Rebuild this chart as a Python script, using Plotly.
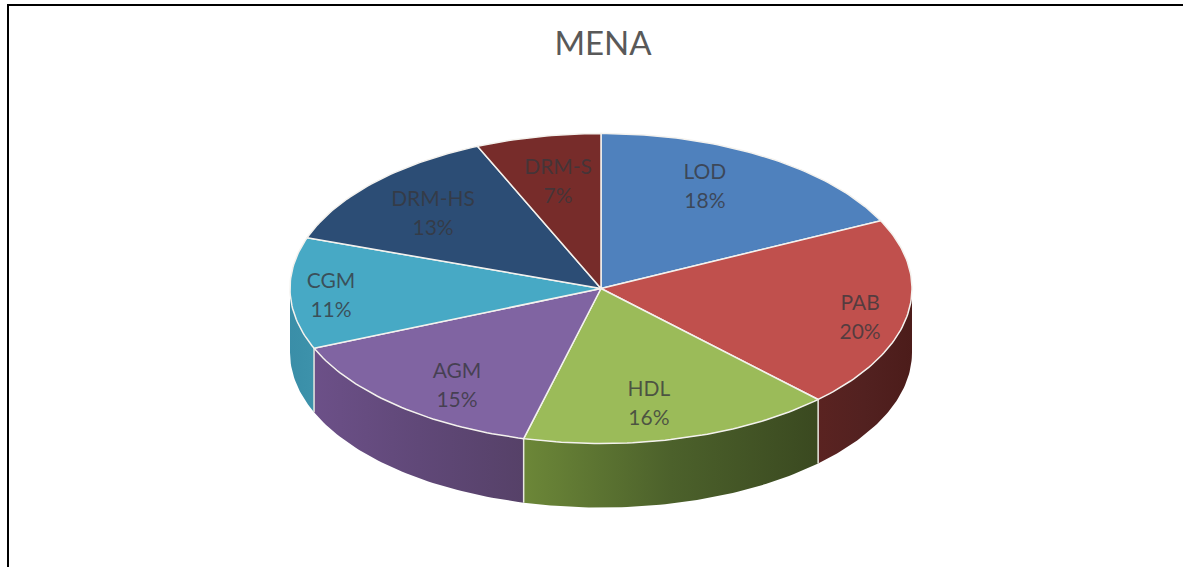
import math
import plotly.graph_objects as go

# ---- data ----
categories = ["LOD", "PAB", "HDL", "AGM", "CGM", "DRM-HS", "DRM-S"]
values = [17.8, 19.9, 16.3, 14.7, 11.6, 13.2, 6.5]
percent_labels = ["18%", "20%", "16%", "15%", "11%", "13%", "7%"]

# ---- style ----
top_colors = ["#4f81bd", "#c0504d", "#9bbb59", "#8064a2", "#47a9c5", "#2c4d75", "#772c2a"]
side_left = ["#3a5f8c", "#5a2321", "#6c8738", "#6c5088", "#3a8ea8", "#203a58", "#571f1e"]
side_mid = ["#335475", "#522120", "#4c612b", "#604878", "#3b90a9", "#203a58", "#571f1e"]
side_right = ["#2c4a6e", "#4c1c1a", "#3a4920", "#564168", "#3d92ab", "#203a58", "#571f1e"]
label_x = [0.334, 0.833, 0.154, -0.463, -0.868, -0.540, -0.138]
label_y = [0.650, -0.200, -0.750, -0.640, -0.058, 0.470, 0.678]

W, H = 1183, 567
CX, CY, RX, RY = 601.0, 288.5, 311.0, 155.0
DEPTH = 64 / RY
LINE_GAP = 14.5 / RY
STEP = 1.0
FONT = "Lato, 'Open Sans', sans-serif"

total = sum(values)
fig = go.Figure()


def arc(a0, a1):
    n = max(2, int(abs(a1 - a0) / STEP) + 1)
    angs = [a0 + (a1 - a0) * i / (n - 1) for i in range(n)]
    return [math.sin(math.radians(a)) for a in angs], [math.cos(math.radians(a)) for a in angs]


# slice boundaries, clockwise from 12 o'clock
bounds = [0.0]
for v in values:
    bounds.append(bounds[-1] + v / total * 360)

# side wall (only the front half of the cylinder is visible)
for i in range(len(values)):
    a0, a1 = max(bounds[i], 90.0), min(bounds[i + 1], 270.0)
    if a1 <= a0:
        continue
    xs, ys = arc(a0, a1)
    px = xs + xs[::-1] + [xs[0]]
    py = ys + [y - DEPTH for y in ys[::-1]] + [ys[0]]
    fig.add_trace(go.Scatter(
        x=px, y=py, mode="lines", fill="toself",
        line=dict(width=0, color=side_left[i]),
        fillgradient=dict(type="horizontal",
                          colorscale=[[0, side_left[i]], [0.5, side_mid[i]], [1, side_right[i]]]),
        hoverinfo="skip", showlegend=False))

# white dividers on the side wall
for b in bounds:
    if 90 < b < 270:
        x, y = math.sin(math.radians(b)), math.cos(math.radians(b))
        fig.add_trace(go.Scatter(x=[x, x], y=[y, y - DEPTH], mode="lines",
                                 line=dict(color="#e8e8e0", width=1.5),
                                 hoverinfo="skip", showlegend=False))

# top face
for i, name in enumerate(categories):
    xs, ys = arc(bounds[i], bounds[i + 1])
    fig.add_trace(go.Scatter(
        x=[0] + xs + [0], y=[0] + ys + [0], mode="lines", fill="toself",
        fillcolor=top_colors[i], line=dict(color="#f4f2ee", width=1.5),
        name=name, hoverinfo="skip", showlegend=False))

# labels: name above, percentage below
label_font = dict(family=FONT, size=21, color="rgba(55,55,60,0.78)")
fig.add_trace(go.Scatter(
    x=label_x, y=[y + LINE_GAP for y in label_y], mode="text", text=categories,
    textposition="middle center", textfont=label_font,
    hoverinfo="skip", showlegend=False))
fig.add_trace(go.Scatter(
    x=label_x, y=[y - LINE_GAP for y in label_y], mode="text", text=percent_labels,
    textposition="middle center", textfont=label_font,
    hoverinfo="skip", showlegend=False))

fig.update_layout(
    width=W, height=H, margin=dict(l=0, r=0, t=0, b=0),
    paper_bgcolor="white", plot_bgcolor="white",
    title=dict(text="MENA", x=603 / W, xanchor="center", y=1 - 43 / H, yanchor="middle",
               font=dict(family=FONT, size=33, color="#595959")),
    xaxis=dict(visible=False, fixedrange=True, range=[-CX / RX, (W - CX) / RX]),
    yaxis=dict(visible=False, fixedrange=True, range=[-(H - CY) / RY, CY / RY]),
    shapes=[
        dict(type="line", xref="paper", yref="paper", x0=7 / W, x1=1, y0=1 - 5 / H, y1=1 - 5 / H,
             line=dict(color="black", width=2)),
        dict(type="line", xref="paper", yref="paper", x0=8 / W, x1=8 / W, y0=0, y1=1 - 4 / H,
             line=dict(color="black", width=2)),
    ],
)

fig.write_html("out.html", config={"displayModeBar": False},
               post_script="document.body.style.margin='0';document.body.style.overflow='hidden';")
